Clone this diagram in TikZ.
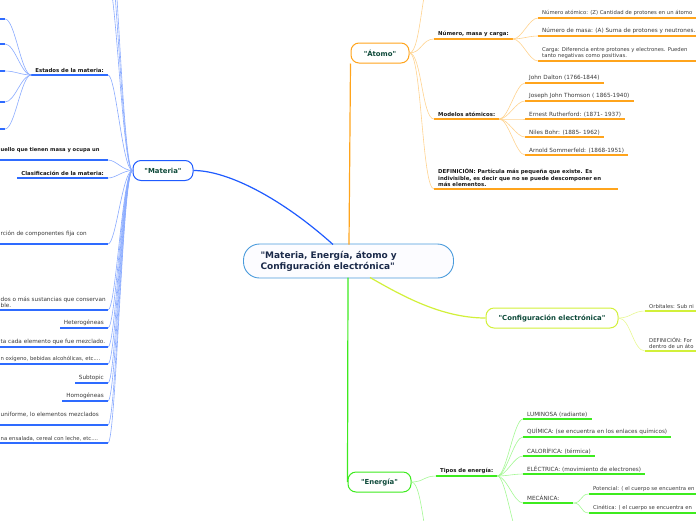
\documentclass[tikz,border=0pt]{standalone}
\usepackage{fontspec}
\setmainfont{DejaVu Sans}[Ligatures=TeXOff]
\definecolor{matblue}{HTML}{1F5BFF}
\definecolor{matline}{HTML}{2E6BFF}
\definecolor{matcurve}{HTML}{8AABFF}
\definecolor{atoorange}{HTML}{FFA41C}
\definecolor{atocurve}{HTML}{FFD38F}
\definecolor{enegreen}{HTML}{3DEB1E}
\definecolor{enecurve}{HTML}{A4F894}
\definecolor{confyellow}{HTML}{D2F03A}
\definecolor{confcurve}{HTML}{E8F892}
\definecolor{centralblue}{HTML}{4A9BDC}
\definecolor{titletext}{HTML}{1B2A4A}
\definecolor{topictext}{HTML}{0E4A3A}
\definecolor{itemtext}{HTML}{3A3A3A}

\begin{document}
\begin{tikzpicture}[x=1pt,y=-1pt,
  topic/.style={draw=#1, line width=1pt, rounded corners=8pt, fill=white, text=topictext,
    font=\bfseries\fontsize{6.9}{8}\selectfont, minimum height=20pt},
  item/.style={text=itemtext, font=\fontsize{5.7}{6.6}\selectfont, align=left, inner xsep=4pt, inner ysep=2pt},
  itemb/.style={item, text=black!90, font=\bfseries\fontsize{5.4}{6.6}\selectfont},
  itemcut/.style={item, font=\fontsize{5.3}{6.5}\selectfont},
  itembcut/.style={itemb, font=\bfseries\fontsize{5.2}{6.6}\selectfont},
  uline/.style={draw=#1, line width=1.6pt},
  twig/.style={draw=#1, line width=0.6pt},
  limb/.style={draw=#1, line width=1.2pt}
]
\useasboundingbox (0,0) rectangle (696,520);
\clip (0,0) rectangle (696,520);
\coordinate (edgeL) at (-12,0);
\coordinate (edgeR) at (710,0);

% ===== CENTRAL TOPIC =====
\node[draw=centralblue, line width=0.9pt, rounded corners=16pt, fill=blue!1, text=titletext,
  font=\bfseries\fontsize{9}{11}\selectfont, align=left, text width=176pt, inner xsep=17pt,
  minimum height=34pt] (central) at (348.5,261) {"Materia, Energía, átomo y\\Configuración electrónica"};

% ===== MAIN TOPICS =====
\node[topic=matblue, minimum width=60pt] (materia) at (163,170.5) {"Materia"};
\node[topic=atoorange, minimum width=58pt] (atomo) at (380,53) {"Átomo"};
\node[topic=enegreen, minimum width=63pt] (energia) at (379.5,482) {"Energía"};
\node[topic=confyellow, minimum width=132pt] (config) at (552,318) {"Configuración electrónica"};

\coordinate (c-mat) at (333,244.5);
\coordinate (c-ato) at (349,244.5);
\coordinate (c-ene) at (348,277.5);
\coordinate (c-conf) at (370,277.5);
\draw[limb=matblue] (c-mat) .. controls +(-50,-45) and +(35,0) .. (materia.east);
\draw[limb=atoorange] (c-ato) -- (atomo.south west);
\draw[limb=enegreen] (c-ene) -- (energia.west);
\draw[limb=confyellow] (c-conf) .. controls +(30,17) and +(-45,0) .. (config.west);

% ===== MATERIA =====
% whole labels, flush with the hub side
\foreach \n/\y/\sty/\txt in {
  m1/75/itemb/{Estados de la materia:},
  m3/178/itemb/{Clasificación de la materia:},
  m6/328/item/{Heterogéneas},
  m9/383/item/{Subtopic},
  m10/401/item/{Homogéneas}} {
  \node[\sty, anchor=south east] (\n) at (108,\y) {\txt};
  \coordinate (\n-end) at (108,\y);
  \draw[uline=matline] (\n-end) -- (\n.south west);
  \draw[twig=matcurve] (materia.west) .. controls +(-10,0) and +(8,0) .. (\n-end);
}
% labels running out at the left border
\foreach \n/\y/\sty/\txt in {
  m2/160/itembcut/{uello que tienen masa y ocupa un\\\mbox{}},
  m4/244/item/{rción de componentes fija con\\\mbox{}},
  m5/310/item/{dos o más sustancias que conservan\\ble.},
  m7/347/item/{ta cada elemento que fue mezclado.},
  m8/364/itemcut/{n oxígeno, bebidas alcohólicas, etc....},
  m11/425/item/{uniforme, lo elementos mezclados\\\mbox{}},
  m12/443/itemcut/{na ensalada, cereal con leche, etc....}} {
  \node[\sty, anchor=south west] (\n) at (-3.5,\y) {\txt};
  \coordinate (\n-end) at (108,\y);
  \draw[uline=matline] (\n-end) -- (\n-end -| edgeL);
  \draw[twig=matcurve] (materia.west) .. controls +(-10,0) and +(8,0) .. (\n-end);
}
% branches running off the top
\foreach \n/\y in {t1/-20, t2/-55, t3/-90} {
  \coordinate (\n) at (108,\y);
  \draw[twig=matcurve] (materia.west) .. controls +(-10,0) and +(8,0) .. (\n);
}
% states of matter
\foreach \n/\y in {e1/19, e2/44, e3/71, e4/102, e5/129} {
  \coordinate (\n) at (5,\y);
  \draw[uline=matline] (\n) -- (\n -| edgeL);
  \draw[twig=matcurve] (m1.south west) .. controls +(-10,0) and +(10,0) .. (\n);
}

% ===== ATOMO =====
\node[itemb, anchor=south west] (a1) at (434,39) {Número, masa y carga:};
\node[itemb, anchor=south west] (a2) at (434,119) {Modelos atómicos:};
\node[itemb, anchor=south west, text width=176pt] (a3) at (434,189) {DEFINICIÓN: Partícula más pequeña que existe. Es\\indivisible, es decir que no se puede descomponer en\\más elementos.};
\coordinate (a0) at (434,-30);
\draw[twig=atocurve] (atomo.east) .. controls +(12,0) and +(-12,0) .. (a0);
\foreach \n in {a1,a2,a3} {
  \draw[uline=atoorange] (\n.south west) -- (\n.south east);
  \draw[twig=atocurve] (atomo.east) .. controls +(12,0) and +(-12,0) .. (\n.south west);
}
\foreach \n/\y/\sty/\txt in {
  n1/18/itemcut/{Número atómico: (Z) Cantidad de protones en un átomo},
  n2/36/item/{Número de masa: (A) Suma de protones y neutrones.},
  n3/61/itemcut/{Carga: Diferencia entre protones y electrones. Pueden\\tanto negativas como positivas.}} {
  \node[\sty, anchor=south west] (\n) at (538,\y) {\txt};
  \draw[uline=atoorange] (\n.south west) -- (\n.south west -| edgeR);
  \draw[twig=atocurve] (a1.south east) .. controls +(9,0) and +(-9,0) .. (\n.south west);
}
\foreach \n/\y/\txt in {
  d1/83/{John Dalton (1766-1844)},
  d2/101/{Joseph John Thomson ( 1865-1940)},
  d3/119/{Ernest Rutherford: (1871- 1937)},
  d4/137/{Niles Bohr: (1885- 1962)},
  d5/155/{Arnold Sommerfeld: (1868-1951)}} {
  \node[item, anchor=south west] (\n) at (525,\y) {\txt};
  \draw[uline=atoorange] (\n.south west) -- (\n.south east);
  \draw[twig=atocurve] (a2.south east) .. controls +(9,0) and +(-9,0) .. (\n.south west);
}

% ===== CONFIGURACION =====
\foreach \n/\y/\txt in {c1/311/{Orbitales: Sub ni}, c2/351/{DEFINICIÓN: For\\dentro de un áto}} {
  \node[itemcut, anchor=south west] (\n) at (645,\y) {\txt};
  \draw[uline=confyellow] (\n.south west) -- (\n.south west -| edgeR);
  \draw[twig=confcurve] (config.east) .. controls +(12,0) and +(-12,0) .. (\n.south west);
}

% ===== ENERGIA =====
\node[itemb, anchor=south west] (g1) at (436,476) {Tipos de energía:};
\coordinate (g0) at (436,560);
\draw[uline=enegreen] (g1.south west) -- (g1.south east);
\draw[twig=enecurve] (energia.east) .. controls +(12,0) and +(-12,0) .. (g1.south west);
\draw[twig=enecurve] (energia.east) .. controls +(12,0) and +(-12,0) .. (g0);
\foreach \n/\y/\txt in {
  k1/419/{LUMINOSA (radiante)},
  k2/437/{QUÍMICA: (se encuentra en los enlaces químicos)},
  k3/456/{CALORÍFICA: (térmica)},
  k4/474/{ELÉCTRICA: (movimiento de electrones)}} {
  \node[item, anchor=south west] (\n) at (523,\y) {\txt};
  \draw[uline=enegreen] (\n.south west) -- (\n.south east);
  \draw[twig=enecurve] (g1.south east) .. controls +(9,0) and +(-9,0) .. (\n.south west);
}
\node[item, anchor=south west, text width=42pt] (k5) at (523,503) {MECÁNICA:};
\coordinate (k6) at (523,545);
\draw[uline=enegreen] (k5.south west) -- (k5.south east);
\draw[twig=enecurve] (g1.south east) .. controls +(9,0) and +(-9,0) .. (k5.south west);
\draw[twig=enecurve] (g1.south east) .. controls +(9,0) and +(-9,0) .. (k6);
\foreach \n/\y/\txt in {
  p1/494/{Potencial: ( el cuerpo se encuentra en},
  p2/513/{Cinética: ( el cuerpo se encuentra en}} {
  \node[itemcut, anchor=south west] (\n) at (589,\y) {\txt};
  \draw[uline=enegreen] (\n.south west) -- (\n.south west -| edgeR);
  \draw[twig=enecurve] (k5.south east) .. controls +(9,0) and +(-9,0) .. (\n.south west);
}
\end{tikzpicture}
\end{document}
